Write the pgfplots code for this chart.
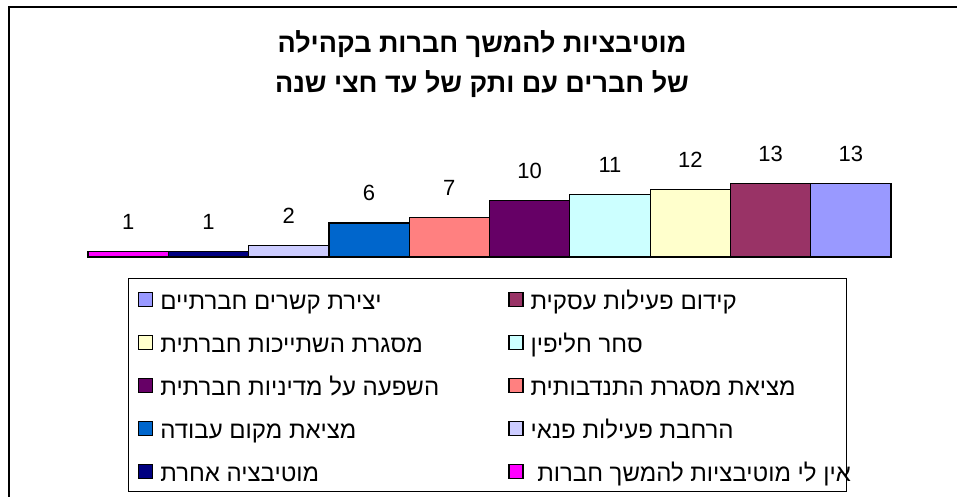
\documentclass[border=0pt]{standalone}
\usepackage{pgfplots}
\pgfplotsset{compat=1.18}
\usepackage{fontspec}
\setmainfont{Liberation Sans}
\newfontfamily\hebfont[Script=Hebrew]{Liberation Sans}
\TeXXeTstate=1
\definecolor{c0}{HTML}{FF00FF}
\definecolor{c1}{HTML}{000080}
\definecolor{c2}{HTML}{CCCCFF}
\definecolor{c3}{HTML}{0066CC}
\definecolor{c4}{HTML}{FF8080}
\definecolor{c5}{HTML}{660066}
\definecolor{c6}{HTML}{CCFFFF}
\definecolor{c7}{HTML}{FFFFCC}
\definecolor{c8}{HTML}{993366}
\definecolor{c9}{HTML}{9999FF}
\newcommand{\heb}[1]{{\hebfont\beginR #1\endR}}
\newcommand{\leA}[1]{\makebox[348pt][l]{\heb{#1}}\rule[-6pt]{0pt}{35pt}}
\newcommand{\leB}[1]{\makebox[307pt][l]{\heb{#1}}\rule[-6pt]{0pt}{35pt}}
\pgfplotsset{mybar/.style={ybar, bar width=1, bar shift=0pt, fill=#1, draw=black, line width=1.2pt,
  legend image code/.code={\draw[##1, draw=black, line width=1.2pt] (0pt,3pt) rectangle (14pt,17pt);}}}
\begin{document}
\begin{tikzpicture}
\useasboundingbox (0,0) rectangle (957pt,497pt);
\draw[line width=2pt] (9pt,-5pt) -- (9pt,489.5pt) -- (965pt,489.5pt);
\draw[line width=1pt] (128pt,218pt) rectangle (846pt,5pt);
\node[font=\fontsize{27}{32}\selectfont\bfseries] at (482pt,453pt) {\heb{מוטיבציות להמשך חברות בקהילה}};
\node[font=\fontsize{27}{32}\selectfont\bfseries] at (482pt,413pt) {\heb{של חברים עם ותק של עד חצי שנה}};
\begin{axis}[
  at={(88pt,240pt)}, anchor=south west,
  scale only axis, width=803pt, height=73.5pt,
  xmin=-0.5, xmax=9.5, ymin=0, ymax=13,
  hide axis, clip=false,
  /pgf/number format/assume math mode=true,
  nodes near coords,
  every node near coord/.append style={anchor=south, inner sep=0pt, yshift=21.5pt, font=\fontsize{22}{26}\selectfont, text=black},
  legend columns=2, reverse legend,
  legend style={at={(0.0498,-0.2993)}, anchor=north west, draw=none, fill=none,
    inner xsep=10pt, inner ysep=1pt, row sep=12.5pt, nodes={inner sep=0pt, anchor=base west},
    /tikz/every odd column/.append style={column sep=7pt},
    font=\fontsize{24}{28}\selectfont},
]
\addplot[mybar=c0] coordinates {(0,1)};
\addlegendentry{\leB{אין לי מוטיבציות להמשך חברות }}
\addplot[mybar=c1] coordinates {(1,1)};
\addlegendentry{\leA{מוטיבציה אחרת}}
\addplot[mybar=c2] coordinates {(2,2)};
\addlegendentry{\leB{הרחבת פעילות פנאי}}
\addplot[mybar=c3] coordinates {(3,6)};
\addlegendentry{\leA{מציאת מקום עבודה}}
\addplot[mybar=c4] coordinates {(4,7)};
\addlegendentry{\leB{מציאת מסגרת התנדבותית}}
\addplot[mybar=c5] coordinates {(5,10)};
\addlegendentry{\leA{השפעה על מדיניות חברתית}}
\addplot[mybar=c6] coordinates {(6,11)};
\addlegendentry{\leB{סחר חליפין}}
\addplot[mybar=c7] coordinates {(7,12)};
\addlegendentry{\leA{מסגרת השתייכות חברתית}}
\addplot[mybar=c8] coordinates {(8,13)};
\addlegendentry{\leB{קידום פעילות עסקית}}
\addplot[mybar=c9] coordinates {(9,13)};
\addlegendentry{\leA{יצירת קשרים חברתיים}}
\end{axis}
\end{tikzpicture}
\end{document}
